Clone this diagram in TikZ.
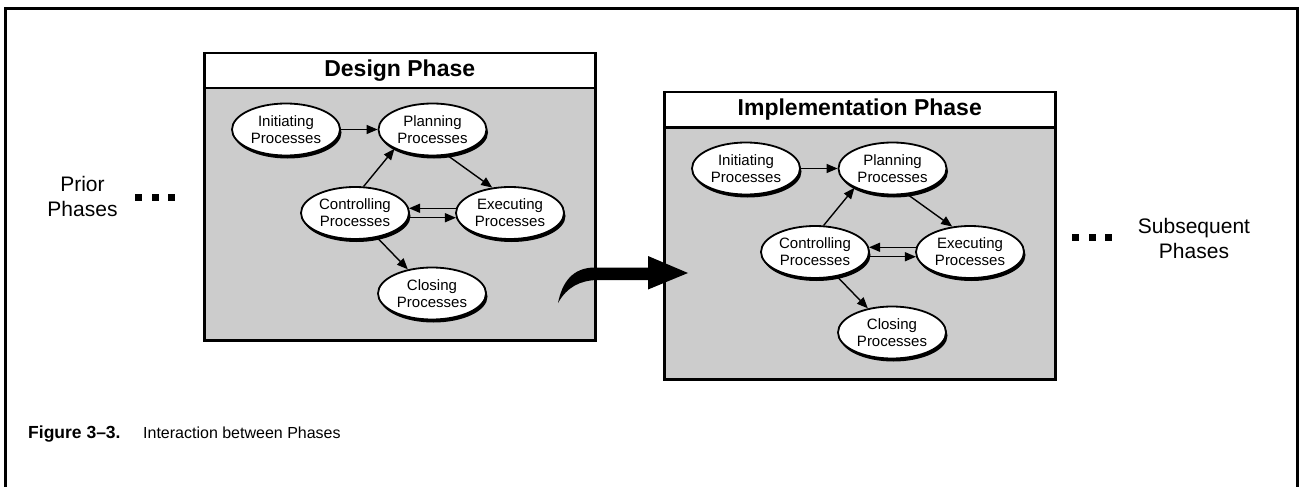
\documentclass[tikz,border=0pt]{standalone}
\usepackage{fontspec}
\setmainfont{Liberation Sans}
\usetikzlibrary{shapes.geometric,arrows.meta,shadows}
\definecolor{boxgray}{RGB}{204,204,204}
\tikzset{
  frameline/.style={line width=3pt},
  titlebar/.style={draw, line width=2.5pt, fill=white, minimum width=391pt, minimum height=35pt, inner sep=0pt, font=\fontsize{23}{27}\selectfont\bfseries},
  bodybox/.style={draw, line width=2.5pt, fill=boxgray, minimum width=391pt, minimum height=252pt, inner sep=0pt},
  proc/.style={ellipse, draw, line width=1.8pt, fill=white, minimum width=108pt, minimum height=52pt, inner sep=0pt, align=center, font=\fontsize{15}{17}\selectfont, drop shadow={shadow xshift=1.5pt, shadow yshift=-3pt, fill=black, opacity=1}},
  arr/.style={line width=1.4pt, -{Triangle[length=11pt,width=9pt]}},
  side/.style={align=center, font=\fontsize{21}{25}\selectfont},
  dotsq/.style={fill=black, minimum size=7pt, inner sep=0pt},
}
\newcommand{\PhaseContent}[2]{%
  \node[titlebar, anchor=north west] (#1title) at (0,0) {#2};
  \node[bodybox, anchor=north west] (#1body) at (0,35) {};
  \node[proc] (#1init) at (83,77.5) {Initiating\\Processes};
  \node[proc] (#1plan) at (229.5,77.5) {Planning\\Processes};
  \node[proc] (#1ctrl) at (152,161) {Controlling\\Processes};
  \node[proc] (#1exe) at (307,161) {Executing\\Processes};
  \node[proc] (#1clos) at (229,241.5) {Closing\\Processes};
  \draw[arr] (#1init) -- (#1plan);
  \draw[arr] (#1ctrl.72) -- (#1plan.207);
  \draw[arr] (#1plan.-60) -- (#1exe.125);
  \draw[arr] (#1exe.175) -- (#1ctrl.5);
  \draw[arr] (#1ctrl.-5) -- (#1exe.185);
  \draw[arr] (#1ctrl.-48) -- (#1clos.135);
}
\begin{document}
\begin{tikzpicture}[x=1pt, y=-1pt]
\useasboundingbox (0,0) rectangle (1299,487);
% outer frame (open at the bottom)
\draw[frameline] (5.5,487) -- (5.5,8.5) -- (1297.5,8.5) -- (1297.5,487);
% design phase
\begin{scope}[shift={(203,52)}]
  \PhaseContent{d}{Design Phase}
\end{scope}
% implementation phase
\begin{scope}[shift={(663,91)}]
  \PhaseContent{m}{Implementation Phase}
\end{scope}
% prior / subsequent
\node[side] (prior) at (82.5,196) {Prior\\Phases};
\node[dotsq] (pd1) at (138.5,197.5) {};
\node[dotsq] (pd2) at (155,197.5) {};
\node[dotsq] (pd3) at (171.5,197.5) {};
\node[side] (subs) at (1194,238) {Subsequent\\Phases};
\node[dotsq] (sd1) at (1075.5,237) {};
\node[dotsq] (sd2) at (1092,237) {};
\node[dotsq] (sd3) at (1108.5,237) {};
% big curved arrow
\coordinate (bigtail) at (558,303);
\coordinate (bighead) at (688,273);
\fill[black] (bigtail) .. controls +(4,-20) and +(-23,0) .. ++(37,-35.5)
  -- ++(53,0) -- ++(0,-11.5) -- (bighead) -- ++(-40,16.5) -- ++(0,-9.5)
  -- ++(-51,0) .. controls +(-17,0.5) and +(9,-16) .. (bigtail) -- cycle;
% caption
\node[anchor=base west, inner sep=0pt, font=\fontsize{17.5}{21}\selectfont\bfseries] (capnum) at (28,438) {Figure 3–3.};
\node[anchor=base west, inner sep=0pt, font=\fontsize{16}{20}\selectfont] (captext) at (143,438) {Interaction between Phases};
\end{tikzpicture}
\end{document}
